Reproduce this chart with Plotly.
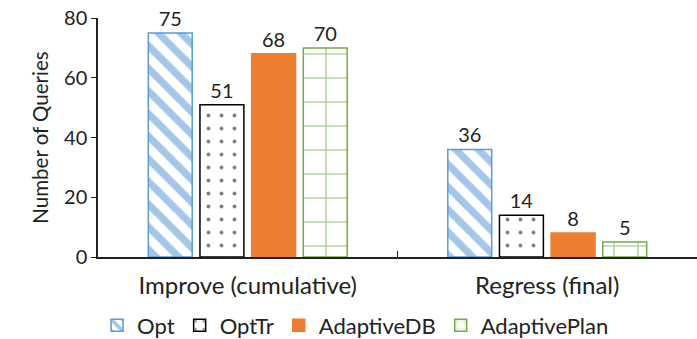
import plotly.graph_objects as go

categories = ["Improve (cumulative)", "Regress (final)"]
series_names = ["Opt", "OptTr", "AdaptiveDB", "AdaptivePlan"]
opt = [75, 36]
opt_tr = [51, 14]
adaptive_db = [68, 8]
adaptive_plan = [70, 5]

values = [opt, opt_tr, adaptive_db, adaptive_plan]
styles = [
    dict(color="white", line="#5B9BD5", pattern=dict(shape="\\", fgcolor="#4A8FD0", bgcolor="white", size=16, solidity=0.45)),
    dict(color="white", line="#000000", pattern=dict(shape=".", fgcolor="#000000", bgcolor="white", size=13, solidity=0.07)),
    dict(color="#ED7D31", line="#ED7D31", pattern=None),
    dict(color="white", line="#70AD47", pattern=dict(shape="+", fgcolor="#6AAA40", bgcolor="white", size=24, solidity=0.13)),
]

FONT = "Lato"

fig = go.Figure()
for name, vals, st in zip(series_names, values, styles):
    marker = dict(color=st["color"], line=dict(color=st["line"], width=1.5))
    if st["pattern"]:
        marker["pattern"] = st["pattern"]
    fig.add_trace(go.Bar(
        name=name, x=categories, y=vals, marker=marker,
        text=[str(v) for v in vals], textposition="outside",
        textfont=dict(size=20, color="#222"), cliponaxis=False,
    ))

fig.update_layout(
    width=697, height=339,
    margin=dict(l=98, r=0, t=18, b=82),
    plot_bgcolor="white", paper_bgcolor="white",
    font=dict(family=FONT, size=20, color="#222"),
    barmode="group", bargap=0.31, bargroupgap=0.15,
    legend=dict(orientation="h", x=0.43, xanchor="center", yref="container", y=0.04, yanchor="middle",
                font=dict(size=22), itemwidth=30, traceorder="normal"),
    showlegend=True,
)
fig.update_xaxes(
    showline=True, linecolor="#222", linewidth=1.5,
    ticks="inside", tickson="boundaries", ticklen=6, tickcolor="#222",
    range=[-0.5, 1.5], showgrid=False, tickfont=dict(size=24),
    ticklabelstandoff=6,
)
fig.update_yaxes(
    range=[0, 80], dtick=20, showline=True, linecolor="#222", linewidth=1.5,
    ticks="outside", ticklen=5, tickcolor="#222", showgrid=False, zeroline=False,
    tickfont=dict(size=20),
    title=dict(text="Number of Queries", font=dict(size=20.5), standoff=10),
)

fig.write_html("out.html")
